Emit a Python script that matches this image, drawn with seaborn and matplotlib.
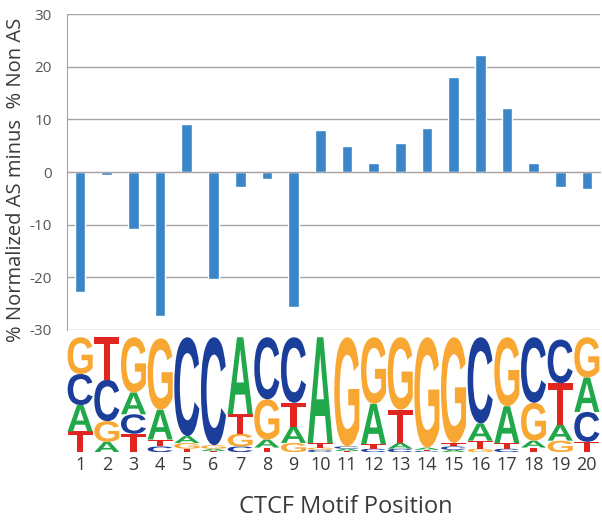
import numpy as np
import matplotlib
matplotlib.use('Agg')
import matplotlib.pyplot as plt
import seaborn as sns
from matplotlib.textpath import TextPath
from matplotlib.patches import PathPatch
from matplotlib.font_manager import FontProperties
from matplotlib.transforms import Affine2D

# bar values: % normalized AS minus % non AS, per motif position
positions = [str(i) for i in range(1, 21)]
diff_values = [-22.8, -0.6, -10.8, -27.3, 9.1, -20.4, -2.8, -1.3, -25.6, 8.0,
               5.0, 1.7, 5.5, 8.4, 18.1, 22.3, 12.2, 1.7, -2.8, -3.2]

# letter frequencies for the CTCF motif logo
freq_A = [0.23, 0.09, 0.19, 0.26, 0.06, 0.02, 0.67, 0.07, 0.14, 0.92,
          0.02, 0.35, 0.05, 0.02, 0.02, 0.15, 0.32, 0.06, 0.14, 0.30]
freq_C = [0.27, 0.36, 0.17, 0.05, 0.86, 0.94, 0.05, 0.54, 0.57, 0.02,
          0.02, 0.03, 0.03, 0.01, 0.03, 0.75, 0.03, 0.57, 0.38, 0.26]
freq_G = [0.32, 0.18, 0.48, 0.62, 0.05, 0.03, 0.11, 0.35, 0.08, 0.02,
          0.95, 0.58, 0.63, 0.96, 0.92, 0.03, 0.60, 0.33, 0.10, 0.35]
freq_T = [0.18, 0.37, 0.16, 0.06, 0.03, 0.01, 0.17, 0.04, 0.21, 0.04,
          0.01, 0.04, 0.29, 0.01, 0.03, 0.07, 0.05, 0.04, 0.36, 0.09]

letter_colors = {'A': '#21a84a', 'C': '#1b3e9b', 'G': '#f8a832', 'T': '#e1251f'}
bar_color = '#3a86c8'
grid_color = '#aaa3a3'
text_color = '#3a3a3a'

sns.set_style('white')
plt.rcParams['font.family'] = ['Open Sans', 'DejaVu Sans']
plt.rcParams['axes.unicode_minus'] = False

fig = plt.figure(figsize=(6.02, 5.27), dpi=100)
ax = fig.add_axes([0.111, 0.374, 0.886, 0.599])
logo = fig.add_axes([0.111, 0.142, 0.886, 0.218])

# --- bar chart ---
sns.barplot(x=positions, y=diff_values, color=bar_color, saturation=1,
            width=0.4, ax=ax)
ax.set_xlim(-0.5, 19.5)
ax.set_ylim(-30, 30)
ax.set_yticks([-30, -20, -10, 0, 10, 20, 30])
ax.yaxis.grid(True, color=grid_color, lw=1)
ax.set_axisbelow(True)
ax.set_xlabel('')
ax.set_xticks(np.arange(-0.5, 20, 1))
ax.set_xticklabels([])
ax.spines['bottom'].set_position(('data', 0))
for s in ['top', 'right']:
    ax.spines[s].set_visible(False)
ax.spines['bottom'].set_color(grid_color)
ax.spines['left'].set_color(grid_color)
ax.tick_params(axis='x', direction='inout', length=5, color=grid_color)
ax.tick_params(axis='y', direction='out', length=5, color=grid_color,
               labelsize=11, labelcolor='#555555', pad=6)
ax.set_ylabel('% Normalized AS minus  % Non AS', fontsize=14.5,
              color=text_color)
ax.yaxis.set_label_coords(-0.077, 0.475)

# --- sequence logo ---
font = FontProperties(family='Liberation Sans', weight='bold')
letters = {'A': freq_A, 'C': freq_C, 'G': freq_G, 'T': freq_T}
col_w = 0.94
for i in range(len(positions)):
    stack = sorted(letters, key=lambda k: letters[k][i])
    y0 = 0.0
    for let in stack:
        h = letters[let][i]
        tp = TextPath((0, 0), let, size=1, prop=font)
        bb = tp.get_extents()
        tr = (Affine2D().translate(-bb.x0, -bb.y0)
              .scale(col_w / bb.width, h / bb.height)
              .translate(i - col_w / 2, y0))
        logo.add_patch(PathPatch(tr.transform_path(tp),
                                 color=letter_colors[let], lw=0))
        y0 += h
logo.set_xlim(-0.5, 19.5)
logo.set_ylim(0, 1.0)
logo.set_xticks(range(len(positions)))
logo.set_xticklabels(positions)
logo.set_yticks([])
for s in logo.spines.values():
    s.set_visible(False)
logo.tick_params(axis='x', length=0, labelsize=13, labelcolor=text_color,
                 pad=3)
logo.set_xlabel('CTCF Motif Position', fontsize=17, color=text_color)
logo.xaxis.set_label_coords(0.523, -0.37)

fig.savefig('out.png', dpi=100)
